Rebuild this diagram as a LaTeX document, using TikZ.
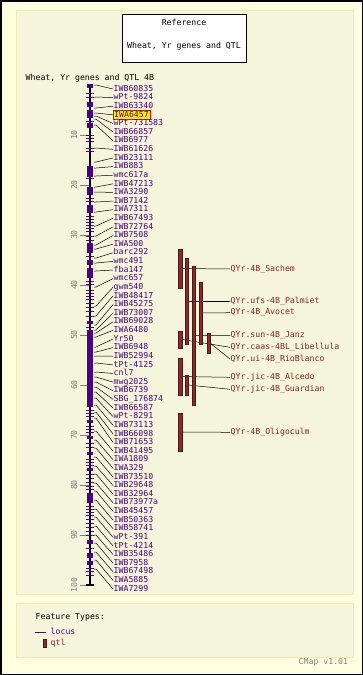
\documentclass[tikz,border=0pt]{standalone}
\usepackage{fontspec}
\setmainfont{DejaVu Sans Mono}
\definecolor{locuscol}{HTML}{4B0082}
\definecolor{qtlcol}{HTML}{8B2A2A}
\definecolor{qtltext}{HTML}{8B2323}
\definecolor{pagecol}{HTML}{FFFFE0}
\definecolor{panelcol}{HTML}{F5F5DC}
\definecolor{panelline}{HTML}{EEEEAA}
\begin{document}
\begin{tikzpicture}[x=1pt,y=-1pt,
    every node/.style={font=\fontsize{8.2}{9}\selectfont, inner sep=0.5pt, text height=5.8pt, text depth=1.4pt},
    lbl/.style={anchor=west, text=locuscol},
    lblhit/.style={anchor=west, text=locuscol, fill=yellow, draw=red, inner sep=1pt},
    qtlbar/.style={fill=qtlcol, draw=qtlcol!55!black, line width=0.5pt},
    qlbl/.style={anchor=west, text=qtltext},
    cmtick/.style={rotate=90, text=gray}]
        \useasboundingbox (0,0) rectangle (363,675);
        \fill[pagecol] (0,0) rectangle (363,675);
        \draw[line width=1.5pt] (0.75,0.75) rectangle (362.25,674.25);
        \draw[panelline, fill=panelcol] (16,10) rectangle (353,594);
        \draw[panelline, fill=panelcol] (16,603) rectangle (353,657);

        \node[draw, fill=white, line width=0.8pt, minimum width=124pt, minimum height=48pt] (refbox) at (184,38) {};
        \node (reftop) at (184,23) {Reference};
        \node (refsub) at (184,46) {Wheat, Yr genes and QTL};
        \node[anchor=west] (title) at (25,78) {Wheat, Yr genes and QTL 4B};

        % scale
        \foreach \v in {10,20,...,100} {
            \draw[gray] (80,{85+5*\v}) -- (89,{85+5*\v});
            \node[cmtick] (s\v) at (75,{85+5*\v}) {\v};
        }

        % chromosome 4B
        \draw[line width=1.6pt] (90,85) -- (90,585);
        \draw[line width=1.2pt] (86,585) -- (94,585);
        \foreach \a/\b in {84/88,102/107,110/118,123/128,166/177,187/195,205/213,243/253,260/265,268/278,
                           321/324,330/407,420/423,436/439,452/455,468/471,493/503,540/544,553/558,561/565}
            \fill[locuscol] (87,\a) rectangle (93,\b);
        \foreach \a in {93,97,121,135,138,141,148,151,178,198,201,216,219,222,225,228,231,236,240,256,281,284,
                        290,293,296,299,303,307,311,316,327,410,413,416,426,429,432,443,447,459,462,465,
                        474,478,482,486,489,506,509,512,515,519,523,527,531,535,548,568,571,575}
            \draw[locuscol, line width=1pt] (86,\a) -- (94,\a);

        % loci
        \foreach \ly/\nm/\st [count=\i] in {85/IWB60835/lbl, 97/wPt-9824/lbl, 108/IWB63340/lbl, 113/IWA6457/lblhit,
            116/wPt-731583/lbl, 119/IWB66857/lbl, 125/IWB6977/lbl, 148/IWB61626/lbl, 162/IWB23111/lbl,
            168/IWB883/lbl, 176/wmc617a/lbl, 187/IWB47213/lbl, 192/IWA3290/lbl, 202/IWB7142/lbl,
            212/IWA7311/lbl, 226/IWB67493/lbl, 236/IWB72764/lbl, 245/IWB7508/lbl, 249/IWA500/lbl,
            258/barc292/lbl, 263/wmc491/lbl, 271/fba147/lbl, 287/wmc657/lbl, 306/gwm540/lbl,
            316/IWB48417/lbl, 325/IWB45275/lbl, 330/IWB73007/lbl, 333/IWB69028/lbl, 337/IWA6480/lbl,
            347/Yr50/lbl, 352/IWB6948/lbl, 356/IWB52994/lbl, 363/tPt-4125/lbl, 372/cnl7/lbl,
            377/mwg2025/lbl, 382/IWB6739/lbl, 387/SBG\_176874/lbl, 392/IWB66587/lbl, 398/wPt-8291/lbl,
            405/IWB73113/lbl, 412/IWB66098/lbl, 418/IWB71653/lbl, 431/IWB41495/lbl, 440/IWA1809/lbl,
            448/IWA329/lbl, 457/IWB73510/lbl, 466/IWB29648/lbl, 474/IWB32964/lbl, 483/IWB73977a/lbl,
            491/IWB45457/lbl, 500/IWB50363/lbl, 509/IWB58741/lbl, 517/wPt-391/lbl, 526/tPt-4214/lbl,
            535/IWB35486/lbl, 543/IWB7958/lbl, 552/IWB67498/lbl, 560/IWA5885/lbl, 569/IWA7299/lbl} {
            \coordinate (c\i) at (94,\ly);
            \node[\st] (m\i) at (113,{89+(\i-1)*8.62}) {\nm};
            \draw[-, line width=0.5pt] (c\i) -- ++(2,0) -- (m\i.west);
        }

        % qtl
        \coordinate (qa) at (182,268.5);
        \coordinate (qb) at (188,301);
        \coordinate (qc) at (195,335.5);
        \coordinate (qd) at (202,313);
        \coordinate (qe) at (182,339.5);
        \coordinate (qf) at (210,343);
        \coordinate (qg) at (182,376.5);
        \coordinate (qh) at (188,385);
        \coordinate (qi) at (182,432);
        \node[qlbl] (ta) at (230,269) {QYr-4B\_Sachem};
        \node[qlbl] (tb) at (230,301) {QYr.ufs-4B\_Palmiet};
        \node[qlbl] (td) at (230,312.7) {QYr-4B\_Avocet};
        \node[qlbl] (tc) at (230,335.7) {QYr.sun-4B\_Janz};
        \node[qlbl] (te) at (230,347.3) {QYr.caas-4BL\_Libellula};
        \node[qlbl] (tf) at (230,359) {QYr.ui-4B\_RioBlanco};
        \node[qlbl] (tg) at (230,377.3) {QYr.jic-4B\_Alcedo};
        \node[qlbl] (th) at (230,389.3) {QYr.jic-4B\_Guardian};
        \node[qlbl] (ti) at (230,432.3) {QYr-4B\_Oligoculm};
        \draw[-, line width=0.5pt] (qa) -- (ta.west);
        \draw[-, line width=0.5pt] (qb) -- (tb.west);
        \draw[-, line width=0.5pt] (qd) -- (td.west);
        \draw[-, line width=0.5pt] (qc) -- (tc.west);
        \draw[-, line width=0.5pt] (qe) -- (te.west);
        \draw[-, line width=0.5pt] (qf) -- (tf.west);
        \draw[-, line width=0.5pt] (qg) -- (tg.west);
        \draw[-, line width=0.5pt] (qh) -- (th.west);
        \draw[-, line width=0.5pt] (qi) -- (ti.west);
        \draw[qtlbar] (178,249) rectangle (182,288);
        \draw[qtlbar] (185,258) rectangle (188,344);
        \draw[qtlbar] (192,266) rectangle (195,405);
        \draw[qtlbar] (199,282) rectangle (202,344);
        \draw[qtlbar] (178,331) rectangle (182,348);
        \draw[qtlbar] (207,333) rectangle (210,353);
        \draw[qtlbar] (178,358) rectangle (182,395);
        \draw[qtlbar] (185,375) rectangle (188,395);
        \draw[qtlbar] (178,413) rectangle (182,451);

        % legend
        \node[anchor=west] (ftypes) at (35,617) {Feature Types:};
        \coordinate (lga) at (35,632);
        \coordinate (lgb) at (46,632);
        \draw[locuscol] (lga) -- (lgb);
        \node[lbl] (lglocus) at (50,632) {locus};
        \draw[qtlbar] (43,639) rectangle (46,647);
        \node[qlbl] (lgqtl) at (50,643) {qtl};
        \node[anchor=west, text=gray] (ver) at (298,662) {CMap v1.01};
\end{tikzpicture}
\end{document}
